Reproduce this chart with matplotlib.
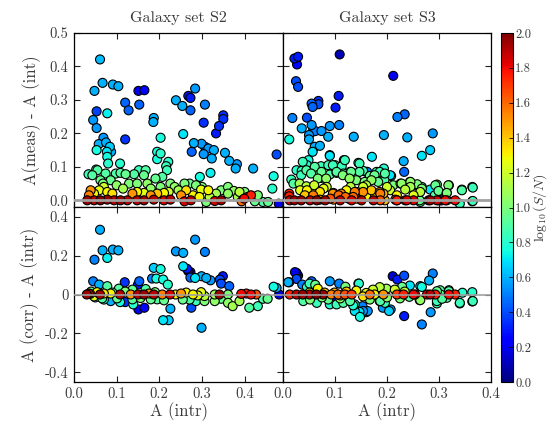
import numpy as np
import matplotlib
matplotlib.use("Agg")
from matplotlib import pyplot as plt
from matplotlib.cm import ScalarMappable
from matplotlib.colors import Normalize

plt.rcParams['font.family'] = ['cmr10', 'DejaVu Serif']
plt.rcParams['mathtext.fontset'] = 'cm'
plt.rcParams['axes.formatter.use_mathtext'] = True

''' Data: (A intr, residual, log10 S/N) per panel '''
s2_meas = [
    (0.061, 0.421, 0.62), (0.048, 0.327, 0.6), (0.067, 0.351, 0.6), (0.053, 0.266, 0.38), (0.045, 0.240, 0.55),
    (0.053, 0.216, 0.55), (0.091, 0.346, 0.6), (0.104, 0.341, 0.6), (0.078, 0.260, 0.72), (0.058, 0.168, 0.6),
    (0.069, 0.187, 0.55), (0.075, 0.173, 0.6), (0.084, 0.160, 0.65), (0.053, 0.150, 0.75), (0.077, 0.145, 0.7),
    (0.087, 0.145, 0.6), (0.078, 0.130, 0.75), (0.080, 0.110, 0.8), (0.108, 0.110, 0.8), (0.052, 0.092, 0.9),
    (0.034, 0.078, 0.85), (0.151, 0.327, 0.2), (0.165, 0.329, 0.25), (0.120, 0.292, 0.45), (0.128, 0.269, 0.45),
    (0.153, 0.286, 0.45), (0.120, 0.182, 0.35), (0.187, 0.246, 0.6), (0.186, 0.234, 0.6), (0.203, 0.187, 0.75),
    (0.195, 0.145, 0.75), (0.203, 0.140, 0.8), (0.195, 0.123, 0.75), (0.221, 0.115, 0.8), (0.216, 0.102, 0.85),
    (0.239, 0.299, 0.6), (0.254, 0.282, 0.6), (0.256, 0.198, 0.7), (0.268, 0.312, 0.3), (0.273, 0.306, 0.3),
    (0.284, 0.334, 0.55), (0.273, 0.269, 0.45), (0.307, 0.286, 0.5), (0.304, 0.232, 0.35), (0.281, 0.171, 0.6),
    (0.299, 0.169, 0.55), (0.307, 0.160, 0.5), (0.315, 0.155, 0.55), (0.328, 0.150, 0.6), (0.304, 0.138, 0.55),
    (0.276, 0.145, 0.45), (0.295, 0.070, 0.75), (0.323, 0.125, 0.6), (0.320, 0.082, 0.72), (0.350, 0.254, 0.35),
    (0.350, 0.243, 0.35), (0.340, 0.222, 0.35), (0.333, 0.200, 0.3), (0.354, 0.142, 0.6), (0.364, 0.118, 0.6),
    (0.379, 0.095, 0.6), (0.382, 0.108, 0.55), (0.420, 0.095, 0.6), (0.475, 0.137, 0.4), (0.468, 0.072, 0.75),
    (0.465, 0.035, 0.8),
    (0.055, 0.090, 0.9), (0.043, 0.075, 0.9), (0.074, 0.080, 0.9), (0.062, 0.060, 0.95), (0.086, 0.060, 0.95),
    (0.098, 0.080, 0.9), (0.109, 0.082, 0.9), (0.121, 0.078, 0.95), (0.141, 0.078, 0.9), (0.152, 0.090, 0.85),
    (0.168, 0.090, 0.9), (0.164, 0.075, 0.95), (0.129, 0.050, 1.0), (0.148, 0.050, 1.0), (0.172, 0.050, 1.05),
    (0.191, 0.065, 0.95), (0.207, 0.070, 0.9), (0.218, 0.090, 0.85), (0.203, 0.040, 1.0), (0.226, 0.050, 1.0),
    (0.236, 0.040, 1.05), (0.300, 0.040, 1.0), (0.345, 0.030, 1.0), (0.375, 0.028, 1.05), (0.400, 0.025, 1.0),
    (0.068, 0.050, 1.0), (0.100, 0.045, 1.05), (0.115, 0.035, 1.1), (0.180, 0.035, 1.05), (0.245, 0.030, 1.1),
    (0.047, 0.020, 1.3), (0.070, 0.040, 1.2), (0.078, 0.025, 1.3), (0.059, 0.030, 1.25), (0.039, 0.030, 1.5),
    (0.035, 0.015, 1.55), (0.137, 0.020, 1.5), (0.148, 0.025, 1.3), (0.164, 0.022, 1.25), (0.180, 0.015, 1.5),
    (0.195, 0.020, 1.4), (0.211, 0.022, 1.3), (0.222, 0.025, 1.2), (0.315, 0.030, 1.3), (0.090, 0.020, 1.35),
    (0.031, 0.0, 1.95), (0.047, 0.0, 1.9), (0.062, 0.0, 2.0), (0.078, 0.002, 1.95), (0.094, 0.0, 1.9),
    (0.109, 0.0, 1.95), (0.125, 0.0, 1.9), (0.148, 0.0, 1.9), (0.164, 0.0, 1.95), (0.187, 0.002, 1.9),
    (0.211, 0.0, 1.85), (0.226, 0.002, 1.9),
    (0.259, 0.050, 1.0), (0.271, 0.050, 0.95), (0.286, 0.045, 1.0), (0.263, 0.030, 1.35), (0.251, 0.015, 1.5),
    (0.279, 0.015, 1.3), (0.298, 0.032, 1.25), (0.294, 0.010, 1.3), (0.318, 0.010, 1.15), (0.333, 0.020, 1.1),
    (0.361, 0.040, 1.0), (0.361, 0.020, 1.05), (0.388, 0.025, 1.15), (0.384, 0.010, 1.1), (0.407, 0.010, 1.75),
    (0.399, 0.005, 1.8), (0.415, 0.015, 1.75), (0.431, 0.015, 1.0), (0.345, 0.0, 1.95), (0.393, -0.003, 1.6),
    (0.424, -0.003, 0.95), (0.443, -0.005, 0.9), (0.455, -0.005, 0.95), (0.480, -0.010, 0.2), (0.310, -0.005, 1.0),
    (0.330, -0.002, 1.85), (0.259, -0.003, 1.85), (0.274, 0.0, 1.9),
]

s2_corr = [
    (0.061, 0.333, 0.6), (0.048, 0.179, 0.5), (0.067, 0.227, 0.6), (0.078, 0.188, 0.72), (0.091, 0.231, 0.6),
    (0.104, 0.227, 0.6), (0.239, 0.222, 0.55), (0.256, 0.214, 0.6), (0.256, 0.145, 0.7), (0.284, 0.282, 0.55),
    (0.307, 0.219, 0.5), (0.268, 0.120, 0.3), (0.273, 0.115, 0.25), (0.265, 0.132, 0.3), (0.273, 0.087, 0.45),
    (0.284, 0.085, 0.7), (0.299, 0.094, 0.6), (0.310, 0.085, 0.6), (0.320, 0.073, 0.55), (0.342, 0.077, 0.4),
    (0.349, 0.094, 0.3), (0.345, 0.056, 0.4), (0.364, 0.043, 0.45), (0.187, 0.137, 0.65), (0.203, 0.131, 0.75),
    (0.151, -0.077, 0.2), (0.165, -0.068, 0.25), (0.120, -0.039, 0.35), (0.119, 0.063, 0.35), (0.150, 0.051, 0.3),
    (0.153, 0.068, 0.45), (0.209, -0.132, 0.7), (0.222, -0.132, 0.65), (0.226, -0.073, 0.6), (0.299, -0.171, 0.6),
    (0.275, -0.068, 0.4), (0.045, 0.068, 0.5), (0.059, 0.051, 0.6), (0.475, 0.034, 0.6), (0.481, 0.0, 0.2),
    (0.468, 0.040, 0.75), (0.183, 0.082, 0.5), (0.193, 0.082, 0.75), (0.209, 0.077, 0.75), (0.220, 0.051, 0.8),
    (0.139, -0.051, 0.8), (0.108, -0.039, 0.75), (0.086, -0.034, 0.6), (0.070, -0.026, 0.8), (0.078, 0.043, 0.9),
    (0.090, 0.010, 0.95), (0.105, 0.030, 0.9), (0.137, 0.025, 0.95), (0.168, 0.028, 0.9), (0.066, -0.020, 0.9),
    (0.101, -0.020, 0.95), (0.137, -0.025, 0.9), (0.156, -0.018, 1.0), (0.180, -0.025, 0.95), (0.195, -0.025, 0.9),
    (0.211, -0.030, 0.95), (0.255, -0.026, 0.95), (0.271, -0.026, 0.9), (0.286, -0.034, 0.85), (0.306, -0.034, 1.0),
    (0.330, -0.034, 1.05), (0.345, -0.022, 0.95), (0.361, -0.043, 1.05), (0.372, -0.060, 1.1), (0.388, -0.034, 1.1),
    (0.411, -0.068, 0.9), (0.431, -0.060, 0.85), (0.443, -0.022, 0.9), (0.454, -0.022, 0.95), (0.330, 0.0, 1.1),
    (0.361, 0.0, 1.0), (0.040, 0.015, 0.95), (0.050, -0.015, 0.85), (0.120, 0.015, 1.0), (0.190, 0.012, 1.0),
    (0.054, 0.012, 1.3), (0.047, -0.010, 1.25), (0.086, 0.005, 1.3), (0.133, 0.0, 1.5), (0.176, 0.005, 1.5),
    (0.207, 0.0, 1.55), (0.238, 0.0, 1.3), (0.251, 0.005, 1.5), (0.263, 0.010, 1.3), (0.279, 0.0, 1.3),
    (0.298, 0.012, 1.25), (0.290, -0.005, 1.25), (0.306, -0.008, 1.15), (0.038, 0.003, 1.55), (0.070, 0.005, 1.35),
    (0.035, 0.005, 1.9), (0.061, 0.0, 1.95), (0.108, 0.0, 1.9), (0.150, 0.0, 1.9), (0.164, 0.0, 1.95),
    (0.187, 0.0, 1.9), (0.225, 0.0, 1.85), (0.341, 0.0, 1.95), (0.392, 0.003, 1.8), (0.404, 0.005, 1.75),
    (0.415, 0.0, 1.8), (0.427, 0.0, 1.65), (0.030, 0.0, 1.95),
]

s3_meas = [
    (0.022, 0.424, 0.3), (0.029, 0.429, 0.3), (0.027, 0.406, 0.25), (0.109, 0.436, 0.1), (0.025, 0.356, 0.4),
    (0.029, 0.339, 0.4), (0.212, 0.372, 0.2), (0.107, 0.312, 0.3), (0.055, 0.289, 0.45), (0.057, 0.279, 0.45),
    (0.068, 0.297, 0.35), (0.068, 0.287, 0.4), (0.101, 0.277, 0.3), (0.018, 0.246, 0.5), (0.046, 0.247, 0.4),
    (0.220, 0.249, 0.5), (0.234, 0.257, 0.45), (0.036, 0.215, 0.6), (0.055, 0.225, 0.55), (0.057, 0.205, 0.5),
    (0.050, 0.195, 0.55), (0.050, 0.182, 0.6), (0.062, 0.207, 0.5), (0.074, 0.207, 0.55), (0.087, 0.190, 0.6),
    (0.090, 0.222, 0.55), (0.108, 0.225, 0.5), (0.136, 0.190, 0.6), (0.194, 0.195, 0.6), (0.239, 0.188, 0.6),
    (0.288, 0.200, 0.55), (0.012, 0.182, 0.75), (0.061, 0.160, 0.6), (0.071, 0.163, 0.6), (0.057, 0.145, 0.7),
    (0.090, 0.133, 0.7), (0.171, 0.130, 0.7), (0.267, 0.133, 0.7), (0.283, 0.150, 0.65), (0.232, 0.117, 0.6),
    (0.233, 0.085, 0.45), (0.162, 0.085, 0.5), (0.049, 0.120, 0.75), (0.046, 0.105, 0.8), (0.073, 0.102, 0.85),
    (0.087, 0.105, 0.85), (0.100, 0.105, 0.85), (0.113, 0.102, 0.85), (0.117, 0.120, 0.8), (0.145, 0.112, 0.85),
    (0.194, 0.095, 0.8), (0.208, 0.073, 0.7), (0.016, 0.062, 0.85), (0.020, 0.050, 0.9), (0.036, 0.088, 0.85),
    (0.055, 0.088, 0.85), (0.065, 0.080, 0.9), (0.078, 0.065, 0.95), (0.090, 0.077, 0.9), (0.103, 0.082, 0.9),
    (0.116, 0.080, 0.9), (0.129, 0.085, 0.85), (0.142, 0.080, 0.9), (0.154, 0.088, 0.85), (0.167, 0.073, 0.95),
    (0.180, 0.085, 0.85), (0.195, 0.060, 0.9), (0.212, 0.045, 1.0), (0.228, 0.050, 1.05), (0.244, 0.055, 0.95),
    (0.257, 0.045, 1.0), (0.267, 0.040, 0.9), (0.296, 0.047, 0.95), (0.318, 0.045, 1.0), (0.344, 0.032, 0.85),
    (0.364, 0.040, 0.85), (0.364, -0.003, 0.85), (0.340, -0.010, 0.85), (0.263, 0.0, 0.95), (0.292, 0.015, 0.9),
    (0.315, 0.022, 1.0), (0.305, 0.0, 1.0),
    (0.038, 0.115, 0.85), (0.045, 0.090, 0.9), (0.061, 0.100, 0.9), (0.074, 0.085, 0.95), (0.096, 0.105, 0.85),
    (0.103, 0.085, 0.9), (0.119, 0.120, 0.85), (0.131, 0.085, 0.95), (0.147, 0.110, 0.85), (0.147, 0.085, 0.9),
    (0.160, 0.085, 0.35), (0.176, 0.075, 0.95), (0.186, 0.085, 0.85), (0.196, 0.080, 0.9), (0.090, 0.135, 0.65),
    (0.035, 0.075, 0.85), (0.054, 0.080, 0.9), (0.067, 0.065, 1.0), (0.083, 0.065, 1.05), (0.115, 0.075, 1.0),
    (0.128, 0.065, 1.05), (0.141, 0.060, 1.0), (0.157, 0.055, 1.0), (0.170, 0.060, 1.05), (0.183, 0.055, 0.95),
    (0.026, 0.090, 0.8), (0.032, 0.050, 1.1), (0.045, 0.042, 1.15),
    (0.206, 0.075, 0.7), (0.226, 0.050, 1.0), (0.245, 0.055, 1.05), (0.245, 0.040, 1.1), (0.258, 0.048, 1.0),
    (0.267, 0.035, 1.0), (0.264, 0.025, 1.15), (0.283, 0.032, 0.7), (0.293, 0.045, 0.95), (0.299, 0.028, 0.95),
    (0.319, 0.045, 0.95), (0.315, 0.022, 0.95), (0.344, 0.030, 0.9), (0.365, 0.038, 0.85), (0.303, 0.0, 0.95),
    (0.264, -0.005, 0.9), (0.365, -0.002, 0.85),
    (0.033, 0.030, 1.25), (0.046, 0.030, 1.3), (0.058, 0.035, 1.2), (0.042, 0.015, 1.4), (0.071, 0.025, 1.35),
    (0.084, 0.040, 1.2), (0.097, 0.022, 1.5), (0.110, 0.015, 1.45), (0.122, 0.030, 1.3), (0.142, 0.025, 1.4),
    (0.154, 0.040, 1.2), (0.167, 0.025, 1.3), (0.177, 0.010, 1.35), (0.193, 0.020, 1.45), (0.206, 0.030, 1.2),
    (0.219, 0.015, 1.3), (0.235, 0.032, 1.15), (0.251, 0.015, 1.25), (0.142, 0.005, 1.35), (0.161, 0.010, 1.3),
    (0.126, 0.005, 1.45), (0.097, 0.002, 1.55), (0.071, 0.002, 1.5), (0.196, 0.0, 1.4),
    (0.060, 0.045, 1.2), (0.078, 0.035, 1.25), (0.130, 0.040, 1.15), (0.200, 0.040, 1.2), (0.160, 0.045, 1.15),
    (0.107, 0.015, 1.6), (0.091, 0.005, 1.65), (0.135, 0.010, 1.6), (0.187, 0.0, 1.65), (0.187, 0.020, 1.55),
    (0.216, 0.002, 1.6), (0.096, 0.020, 1.5), (0.112, 0.020, 1.55), (0.138, 0.025, 1.55), (0.154, 0.025, 1.5),
    (0.170, 0.030, 1.4), (0.186, 0.025, 1.5), (0.219, 0.0, 1.65), (0.058, 0.015, 1.55), (0.120, 0.010, 1.6),
    (0.013, 0.0, 1.85), (0.012, 0.020, 1.75), (0.022, 0.0, 1.95), (0.035, 0.0, 1.95), (0.052, 0.0, 1.9),
    (0.065, 0.0, 2.0), (0.081, 0.0, 1.95), (0.110, 0.0, 1.9), (0.132, 0.0, 1.85), (0.151, 0.0, 1.9),
    (0.174, 0.0, 1.9), (0.219, 0.0, 1.75), (0.235, 0.0, 1.8), (0.251, 0.0, 1.85), (0.280, 0.0, 1.9),
    (0.299, 0.0, 1.8), (0.315, 0.0, 1.75), (0.331, 0.0, 1.8), (0.012, 0.012, 1.75), (0.238, 0.0, 1.85),
    (0.283, 0.0, 1.95), (0.296, 0.0, 1.85), (0.312, 0.0, 1.8),
]

s3_corr = [
    (0.023, 0.115, 0.2), (0.029, 0.097, 0.15), (0.026, 0.080, 0.4), (0.010, 0.063, 0.6), (0.055, 0.068, 0.45),
    (0.090, 0.068, 0.55), (0.211, 0.094, 0.15), (0.220, 0.077, 0.3), (0.233, 0.097, 0.4), (0.288, 0.108, 0.5),
    (0.281, 0.072, 0.6), (0.108, 0.056, 0.5), (0.145, 0.056, 0.75), (0.244, 0.046, 0.7), (0.267, 0.039, 0.75),
    (0.302, 0.022, 0.9), (0.319, 0.022, 0.85), (0.345, 0.009, 0.8), (0.364, 0.012, 0.8), (0.340, -0.046, 0.8),
    (0.364, -0.036, 0.85), (0.296, -0.046, 0.85), (0.284, -0.091, 0.55), (0.267, -0.154, 0.5), (0.233, -0.111, 0.3),
    (0.204, -0.085, 0.65), (0.207, -0.077, 0.55), (0.147, -0.089, 0.7), (0.148, -0.115, 0.75), (0.163, -0.085, 0.55),
    (0.153, -0.060, 0.5), (0.263, -0.029, 1.0), (0.243, -0.012, 0.9), (0.026, 0.111, 0.15), (0.012, 0.063, 0.55),
    (0.037, 0.051, 0.5), (0.051, 0.056, 0.85), (0.146, 0.056, 0.8), (0.138, -0.085, 0.7), (0.154, -0.085, 0.55),
    (0.160, -0.091, 0.5), (0.138, -0.051, 0.8), (0.099, -0.009, 0.2), (0.192, -0.068, 0.55), (0.186, -0.034, 0.8),
    (0.264, 0.043, 0.65), (0.296, 0.017, 0.95), (0.303, 0.0, 0.9), (0.319, 0.017, 0.9), (0.315, -0.017, 0.9),
    (0.296, -0.034, 0.85), (0.306, -0.022, 0.9), (0.264, -0.029, 1.05), (0.365, -0.034, 0.85), (0.340, -0.043, 0.85),
    (0.039, -0.034, 0.9), (0.052, -0.026, 1.0), (0.065, -0.043, 0.85), (0.087, -0.026, 0.95), (0.090, -0.051, 0.8),
    (0.103, -0.051, 0.85), (0.116, -0.043, 0.9), (0.129, -0.034, 0.9), (0.135, -0.056, 0.8), (0.167, -0.026, 1.0),
    (0.187, -0.034, 0.9), (0.196, -0.043, 0.85), (0.075, -0.015, 1.0), (0.110, -0.020, 1.05), (0.200, -0.015, 1.05),
    (0.225, -0.020, 1.0), (0.046, 0.039, 0.8), (0.229, 0.040, 0.95), (0.062, 0.050, 0.95), (0.120, 0.040, 1.0),
    (0.141, 0.020, 1.3), (0.160, 0.008, 1.25), (0.173, 0.025, 1.2), (0.186, 0.038, 1.15), (0.199, 0.030, 1.1),
    (0.215, 0.025, 1.2), (0.234, 0.015, 1.15), (0.067, 0.030, 1.3), (0.051, 0.010, 1.35), (0.122, 0.015, 1.4),
    (0.099, 0.010, 1.45), (0.176, 0.0, 1.3), (0.154, -0.010, 1.35), (0.080, 0.010, 1.4), (0.110, -0.005, 1.5),
    (0.013, 0.0, 1.75), (0.026, 0.0, 1.9), (0.038, 0.0, 1.95), (0.051, 0.0, 1.9), (0.064, 0.0, 2.0),
    (0.077, 0.0, 1.95), (0.093, 0.0, 1.55), (0.106, 0.0, 1.6), (0.119, 0.0, 1.65), (0.132, 0.0, 1.7),
    (0.167, 0.0, 1.6), (0.193, 0.0, 1.5), (0.219, 0.0, 1.7), (0.232, 0.0, 1.75), (0.254, 0.0, 1.8),
    (0.277, 0.0, 1.85), (0.293, 0.0, 1.75), (0.319, 0.0, 1.8), (0.331, 0.0, 1.75), (0.283, 0.0, 1.9),
    (0.251, 0.0, 1.8),
]

titles = ["Galaxy set S2", "Galaxy set S3"]
top_yticks = [0.0, 0.1, 0.2, 0.3, 0.4, 0.5]
bot_yticks = [-0.4, -0.2, 0.0, 0.2, 0.4]
bot_ylabels = ["-0.4", "-0.2", "0", "0.2", "0.4"]
xticks = [0.0, 0.1, 0.2, 0.3, 0.4]
cbar_ticks = [0.0, 0.2, 0.4, 0.6, 0.8, 1.0, 1.2, 1.4, 1.6, 1.8, 2.0]

TEXT = '#3a3a3a'
norm = Normalize(vmin=0.0, vmax=2.0)
cmap = plt.get_cmap('jet')

fig = plt.figure(figsize=(5.48, 4.21), dpi=100)
W, H = 548.0, 421.0


def px_axes(x0, y0, x1, y1):
    # axes box given in pixel coords (top-left origin)
    return fig.add_axes([x0 / W, 1 - y1 / H, (x1 - x0) / W, (y1 - y0) / H])


ax_tl = px_axes(74, 33, 283, 207)
ax_tr = px_axes(283, 33, 491, 207)
ax_bl = px_axes(74, 207, 283, 382)
ax_br = px_axes(283, 207, 491, 382)
cax = px_axes(501, 33, 513, 382)


def draw(ax, pts, lw0):
    arr = np.array(pts)
    order = np.argsort(arr[:, 2], kind='stable')
    arr = arr[order]
    ax.axhline(0.0, color='#a0a0a0', lw=lw0, zorder=3)
    ax.scatter(arr[:, 0], arr[:, 1], c=arr[:, 2], cmap=cmap, norm=norm, s=42,
               edgecolors='black', linewidths=0.8, zorder=2)
    ax.tick_params(direction='in', top=True, right=True, length=4, width=0.8,
                   colors='#222222', labelcolor=TEXT, labelsize=10.5, pad=4)
    for sp in ax.spines.values():
        sp.set_linewidth(0.9)


draw(ax_tl, s2_meas, 2.0)
draw(ax_tr, s3_meas, 2.0)
draw(ax_bl, s2_corr, 1.2)
draw(ax_br, s3_corr, 1.2)

for ax in (ax_tl, ax_bl):
    ax.set_xlim(0.0, 0.49)
for ax in (ax_tr, ax_br):
    ax.set_xlim(0.0, 0.4)
for ax in (ax_tl, ax_tr):
    ax.set_ylim(-0.02, 0.5)
    ax.set_yticks(top_yticks)
    ax.set_xticks(xticks)
    ax.set_xticklabels([])
for ax in (ax_bl, ax_br):
    ax.set_ylim(-0.45, 0.45)
    ax.set_yticks(bot_yticks)
    ax.set_xticks(xticks)
    ax.set_xticklabels(["%.1f" % t for t in xticks])
    ax.set_xlabel("A (intr)", fontsize=12, color=TEXT, labelpad=1)

ax_tl.set_yticklabels(["%.1f" % t for t in top_yticks])
ax_bl.set_yticklabels(bot_ylabels)
ax_tr.set_yticklabels([])
ax_br.set_yticklabels([])

ax_tl.set_ylabel("A(meas) - A (int)", fontsize=12, color=TEXT, labelpad=6)
ax_bl.set_ylabel("A (corr) - A (intr)", fontsize=12, color=TEXT, labelpad=4)
ax_tl.set_title(titles[0], fontsize=11.5, color=TEXT, pad=8)
ax_tr.set_title(titles[1], fontsize=11.5, color=TEXT, pad=8)

cb = fig.colorbar(ScalarMappable(norm=norm, cmap=cmap), cax=cax)
cb.set_ticks(cbar_ticks)
cb.set_ticklabels(["%.1f" % t for t in cbar_ticks])
cb.ax.tick_params(direction='in', length=3, width=0.6, labelsize=9, labelcolor=TEXT, pad=1.5)
cb.outline.set_linewidth(0.8)
# colorbar label placed by hand so it stays inside the canvas
fig.text(540.5 / W, 1 - 207.5 / H, r"$\log_{10}(S/N)$", rotation=90, fontsize=10,
         color=TEXT, ha='center', va='center')

fig.savefig("out.png", dpi=100)
